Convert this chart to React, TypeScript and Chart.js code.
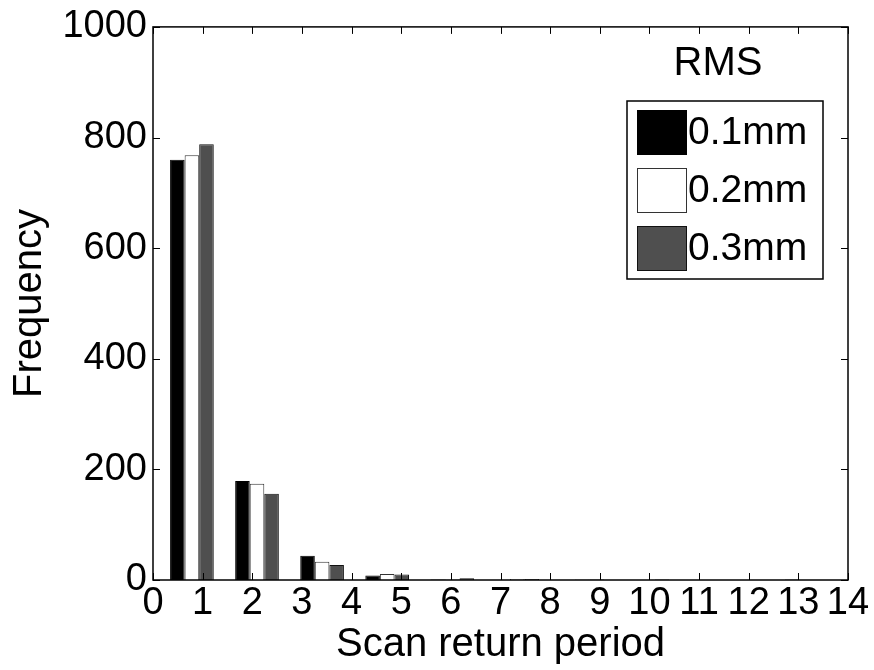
import React, { useEffect, useRef } from 'react';
import { Chart, registerables } from 'chart.js';

Chart.register(...registerables);

// ---- data ----
const binCenters = [0.784, 2.095, 3.406, 4.717, 6.028, 7.339, 8.65, 9.961, 11.272, 12.583];
const rms01 = [760, 179, 44, 8, 1, 0, 0, 0, 0, 0];
const rms02 = [768, 174, 33, 11, 1, 2, 1, 0, 0, 0];
const rms03 = [788, 156, 27, 10, 3, 2, 1, 1, 0, 1];
const seriesLabels = ['0.1mm', '0.2mm', '0.3mm'];
const legendTitle = 'RMS';
const xTitle = 'Scan return period';
const yTitle = 'Frequency';
const xRange = [0, 14];
const yRange = [0, 1000];
const xStep = 1;
const yStep = 200;

const FONT = '"Liberation Sans", Arial, Helvetica, sans-serif';
const fills = ['#000000', '#ffffff', '#4f4f4f'];
const edges = ['#000000', '#333333', '#111111'];

const framePlugin = {
  id: 'matlabFrame',
  afterDatasetsDraw(chart: any) {
    const { ctx, chartArea: a, scales } = chart;
    const tl = 7;
    ctx.save();
    ctx.strokeStyle = '#000';
    ctx.lineWidth = 1.5;
    ctx.strokeRect(a.left, a.top, a.right - a.left, a.bottom - a.top);
    ctx.lineWidth = 1;
    ctx.beginPath();
    scales.x.ticks.forEach((t: any) => {
      const px = Math.round(scales.x.getPixelForValue(t.value)) + 0.5;
      ctx.moveTo(px, a.bottom);
      ctx.lineTo(px, a.bottom - tl);
      ctx.moveTo(px, a.top);
      ctx.lineTo(px, a.top + tl);
    });
    scales.y.ticks.forEach((t: any) => {
      const py = Math.round(scales.y.getPixelForValue(t.value)) + 0.5;
      ctx.moveTo(a.left, py);
      ctx.lineTo(a.left + tl, py);
      ctx.moveTo(a.right, py);
      ctx.lineTo(a.right - tl, py);
    });
    ctx.stroke();
    ctx.restore();
  },
};

const legendPlugin = {
  id: 'insideLegend',
  afterDraw(chart: any) {
    const { ctx } = chart;
    const box = { left: 627, top: 101, right: 823, bottom: 279 };
    ctx.save();
    ctx.fillStyle = '#000';
    ctx.font = `40px ${FONT}`;
    ctx.textAlign = 'center';
    ctx.textBaseline = 'middle';
    ctx.fillText(legendTitle, 718, 64);
    ctx.fillStyle = '#fff';
    ctx.fillRect(box.left, box.top, box.right - box.left, box.bottom - box.top);
    ctx.strokeStyle = '#000';
    ctx.lineWidth = 1.5;
    ctx.strokeRect(box.left, box.top, box.right - box.left, box.bottom - box.top);
    chart.data.datasets.forEach((ds: any, i: number) => {
      const top = 110 + i * 58;
      const h = 45;
      ctx.fillStyle = ds.backgroundColor;
      ctx.fillRect(637, top, 50, h);
      ctx.strokeStyle = ds.borderColor;
      ctx.lineWidth = 1;
      ctx.strokeRect(637.5, top + 0.5, 49, h - 1);
      ctx.fillStyle = '#000';
      ctx.textAlign = 'left';
      ctx.textBaseline = 'middle';
      ctx.font = `39px ${FONT}`;
      ctx.fillText(ds.label, 688, top + h / 2 + 1);
    });
    ctx.restore();
  },
};

export default function App() {
  const canvasRef = useRef<HTMLCanvasElement | null>(null);

  useEffect(() => {
    if (!canvasRef.current) return;
    const series = [rms01, rms02, rms03];
    const chart = new Chart(canvasRef.current, {
      type: 'bar',
      data: {
        datasets: series.map((vals, i) => ({
          label: seriesLabels[i],
          data: binCenters.map((x, j) => ({ x, y: vals[j] })),
          backgroundColor: fills[i],
          borderColor: edges[i],
          borderWidth: 1,
          categoryPercentage: 0.88,
          barPercentage: 1,
        })),
      },
      options: {
        animation: false,
        responsive: false,
        devicePixelRatio: 1,
        layout: { padding: { left: 7, top: 22, right: 26, bottom: 2 } },
        plugins: {
          legend: { display: false },
          tooltip: { enabled: false },
        },
        scales: {
          x: {
            type: 'linear',
            min: xRange[0],
            max: xRange[1],
            offset: false,
            grid: { display: false, drawTicks: false },
            border: { display: false },
            ticks: {
              stepSize: xStep,
              autoSkip: false,
              maxRotation: 0,
              padding: 3,
              color: '#000',
              font: { family: FONT, size: 38, lineHeight: 1.1 },
              callback: (v: any) => String(v),
            },
            title: {
              display: true,
              text: xTitle,
              color: '#000',
              padding: 0,
              font: { family: FONT, size: 40, lineHeight: 1.15 },
            },
            afterFit: (s: any) => {
              s.height = 88;
            },
          },
          y: {
            type: 'linear',
            min: yRange[0],
            max: yRange[1],
            grid: { display: false, drawTicks: false },
            border: { display: false },
            ticks: {
              stepSize: yStep,
              padding: 6,
              color: '#000',
              font: { family: FONT, size: 38, lineHeight: 1.1 },
              callback: (v: any) => String(v),
            },
            title: {
              display: true,
              text: yTitle,
              color: '#000',
              padding: 0,
              font: { family: FONT, size: 40, lineHeight: 1.15 },
            },
            afterFit: (s: any) => {
              s.width = 146;
            },
          },
        },
      },
      plugins: [framePlugin, legendPlugin],
    } as any);
    return () => chart.destroy();
  }, []);

  return (
    <div style={{ position: 'fixed', left: 0, top: 0, width: 874, height: 670, background: '#fff' }}>
      <canvas ref={canvasRef} width={874} height={670} style={{ display: 'block', width: 874, height: 670 }} />
    </div>
  );
}
